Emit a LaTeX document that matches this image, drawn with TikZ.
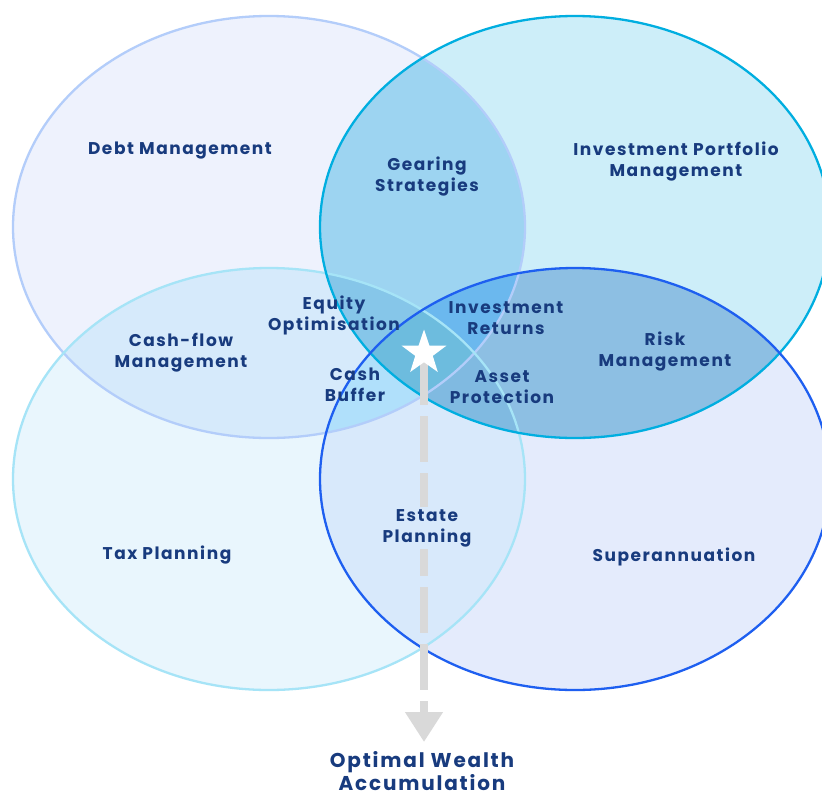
\documentclass[tikz,border=0pt]{standalone}
\usepackage{fontspec}
\setmainfont{Poppins}[LetterSpace=9]
\usetikzlibrary{shapes.geometric,arrows.meta}
\definecolor{fA}{HTML}{EEF2FD}
\definecolor{fB}{HTML}{CDEEF9}
\definecolor{fC}{HTML}{E9F6FD}
\definecolor{fD}{HTML}{E4EBFC}
\definecolor{fAB}{HTML}{9DD4F1}
\definecolor{fAC}{HTML}{D6EAFB}
\definecolor{fAD}{HTML}{C0D8F8}
\definecolor{fBC}{HTML}{A8DCF2}
\definecolor{fBD}{HTML}{8DBFE3}
\definecolor{fCD}{HTML}{D8E9FB}
\definecolor{fABC}{HTML}{86C6E9}
\definecolor{fABD}{HTML}{6BB8EE}
\definecolor{fACD}{HTML}{B0E0FB}
\definecolor{fBCD}{HTML}{80BAE1}
\definecolor{fABCD}{HTML}{6DBCDE}
\definecolor{sA}{HTML}{B3CDFA}
\definecolor{sB}{HTML}{00AEE0}
\definecolor{sC}{HTML}{A6E4F7}
\definecolor{sD}{HTML}{1E5FF0}
\definecolor{txt}{HTML}{183B7E}
\definecolor{greyline}{HTML}{D9D9D9}
\def\pA{(269,227) ellipse [x radius=256pt, y radius=211pt]}
\def\pB{(575,227) ellipse [x radius=255pt, y radius=211pt]}
\def\pC{(269,479) ellipse [x radius=256pt, y radius=211pt]}
\def\pD{(575,479) ellipse [x radius=255pt, y radius=211pt]}
\tikzset{
  lbl/.style={text=txt, align=center, font=\bfseries\fontsize{17}{21}\selectfont},
  biglbl/.style={text=txt, align=center, inner sep=0pt, font=\bfseries\fontsize{20}{21}\selectfont},
  ring/.style={line width=2.3pt},
}
\begin{document}
\begin{tikzpicture}[x=1pt,y=-1pt]
\useasboundingbox (0,0) rectangle (822,796);
\clip (0,0) rectangle (822,796);
\fill[white] (0,0) rectangle (822,796);
% singles
\fill[fA] \pA; \fill[fB] \pB; \fill[fC] \pC; \fill[fD] \pD;
% pairs
\begin{scope}\clip \pA; \fill[fAB] \pB; \end{scope}
\begin{scope}\clip \pA; \fill[fAC] \pC; \end{scope}
\begin{scope}\clip \pA; \fill[fAD] \pD; \end{scope}
\begin{scope}\clip \pB; \fill[fBC] \pC; \end{scope}
\begin{scope}\clip \pB; \fill[fBD] \pD; \end{scope}
\begin{scope}\clip \pC; \fill[fCD] \pD; \end{scope}
% triples
\begin{scope}\clip \pA; \clip \pB; \fill[fABC] \pC; \end{scope}
\begin{scope}\clip \pA; \clip \pB; \fill[fABD] \pD; \end{scope}
\begin{scope}\clip \pA; \clip \pC; \fill[fACD] \pD; \end{scope}
\begin{scope}\clip \pB; \clip \pC; \fill[fBCD] \pD; \end{scope}
% quad
\begin{scope}\clip \pA; \clip \pB; \clip \pC; \fill[fABCD] \pD; \end{scope}
% outlines
\draw[ring, sA] \pA;
\draw[ring, sC] \pC;
\draw[ring, sB] \pB;
\draw[ring, sD] \pD;
% arrow and star
\coordinate (tip) at (424,742);
\coordinate (start) at (424,359);
\draw[greyline, line width=8pt, dash pattern=on 46pt off 11pt, -{Triangle[length=30pt,width=36pt]}] (start) -- (tip);
\node[star, star points=5, star point ratio=2.55, fill=white, minimum size=47pt, inner sep=0pt] (star) at (424,353) {};
% labels
\node[lbl] (debt) at (180,151) {Debt Management};
\node[lbl] (gear) at (427,177) {Gearing\\Strategies};
\node[lbl] (ipm) at (676,162) {Investment Portfolio\\Management};
\node[lbl] (eq) at (334,315) {Equity\\Optimisation};
\node[lbl] (ir) at (506,318) {Investment\\Returns};
\node[lbl] (cfm) at (181,353) {Cash-flow\\Management};
\node[lbl] (risk) at (665,352) {Risk\\Management};
\node[lbl] (cb) at (355,385) {Cash\\Buffer};
\node[lbl] (ap) at (502,387) {Asset\\Protection};
\node[lbl] (tax) at (167,555) {Tax Planning};
\node[lbl, fill=fCD, inner sep=2pt] (est) at (427,528) {Estate\\Planning};
\node[lbl] (sup) at (674,557) {Superannuation};
\node[biglbl] (owa) at (422,771) {Optimal Wealth\\Accumulation};
\end{tikzpicture}
\end{document}
